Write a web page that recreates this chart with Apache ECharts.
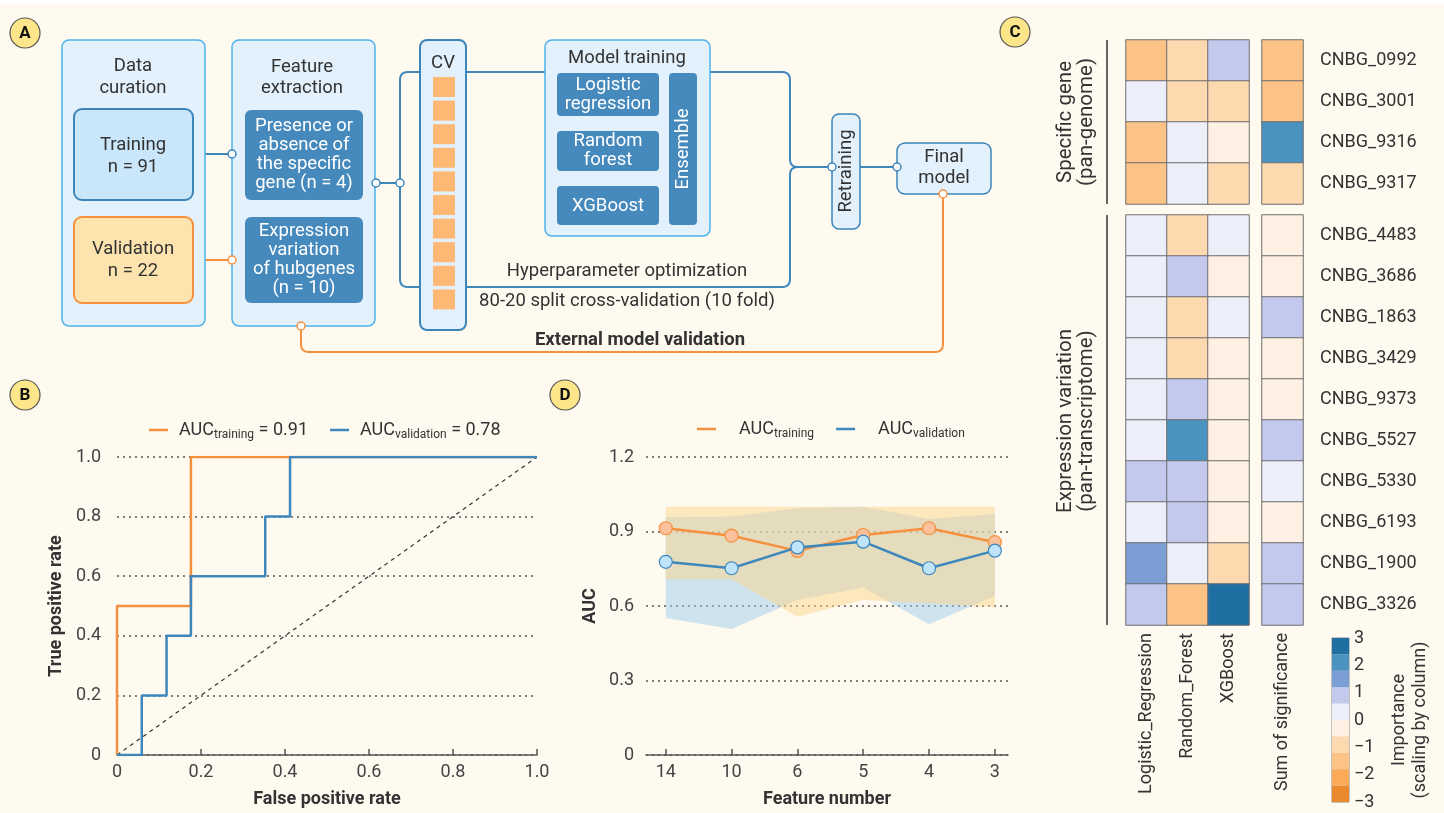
<!DOCTYPE html>
<html>
<head>
<meta charset="utf-8">
<script src="https://cdn.jsdelivr.net/npm/echarts@6/dist/echarts.min.js"></script>
<style>
  html, body { margin: 0; padding: 0; background: #fefaf0; }
  #chart { width: 1444px; height: 813px; }
</style>
</head>
<body>
<div id="chart"></div>
<script>
// ---- B: ROC curves (steps)
const rocTrainFpr = [0, 0, 0.176, 0.176, 1.0];
const rocTrainTpr = [0, 0.5, 0.5, 1.0, 1.0];
const rocValidFpr = [0, 0.059, 0.059, 0.118, 0.118, 0.176, 0.176, 0.353, 0.353, 0.412, 0.412, 1.0];
const rocValidTpr = [0, 0, 0.2, 0.2, 0.4, 0.4, 0.6, 0.6, 0.8, 0.8, 1.0, 1.0];
const aucTrain = '0.91';
const aucValid = '0.78';

// ---- D: AUC vs feature number (mean + range band)
const featureNumbers = [14, 10, 6, 5, 4, 3];
const aucTrainMean = [0.913, 0.883, 0.822, 0.886, 0.913, 0.857];
const aucTrainLow  = [0.708, 0.708, 0.557, 0.624, 0.611, 0.595];
const aucTrainHigh = [1.0, 1.0, 1.0, 1.0, 1.0, 1.0];
const aucValidMean = [0.778, 0.752, 0.836, 0.859, 0.752, 0.823];
const aucValidLow  = [0.552, 0.507, 0.624, 0.675, 0.527, 0.64];
const aucValidHigh = [0.957, 0.96, 0.994, 1.0, 0.95, 0.97];

// ---- C: feature importance heatmap (scaled by column)
const models = ['Logistic_Regression', 'Random_Forest', 'XGBoost'];
const sumLabel = ['Sum of significance'];
const specificGenes = ['CNBG_0992', 'CNBG_3001', 'CNBG_9316', 'CNBG_9317'];
const expressionGenes = ['CNBG_4483', 'CNBG_3686', 'CNBG_1863', 'CNBG_3429', 'CNBG_9373',
  'CNBG_5527', 'CNBG_5330', 'CNBG_6193', 'CNBG_1900', 'CNBG_3326'];
// rows follow the gene lists, columns follow models
const specificImportance = [
  [-1.5, -0.9, 0.9],
  [0.3, -0.9, -0.9],
  [-1.5, 0.3, -0.3],
  [-1.5, 0.3, -0.9]
];
const specificSum = [-1.5, -1.5, 2.1, -0.9];
const expressionImportance = [
  [0.3, -0.9, 0.3],
  [0.3, 0.9, -0.3],
  [0.3, -0.9, 0.3],
  [0.3, -0.9, -0.3],
  [0.3, 0.9, -0.3],
  [0.3, 2.1, -0.3],
  [0.9, 0.9, -0.3],
  [0.3, 0.9, -0.3],
  [1.5, 0.3, -0.9],
  [0.9, -1.5, 2.7]
];
const expressionSum = [-0.3, -0.3, 0.9, -0.3, -0.3, 0.9, 0.3, -0.3, 0.9, 0.9];
const colorSteps = [-3, -2.4, -1.8, -1.2, -0.6, 0, 0.6, 1.2, 1.8, 2.4, 3];
const colorStepColors = ['#ea8a2e', '#fbaa57', '#fcc386', '#fdd9b0', '#fef1e3',
  '#eceefa', '#c3c9ed', '#7b9fd4', '#4a93c1', '#1f6fa3'];

const FONT = 'Roboto, "Noto Sans", sans-serif';
const TXT = '#333';
const ORANGE = '#f5913e';
const BLUE = '#3d87bd';

const chart = echarts.init(document.getElementById('chart'));

// ---------- panel A diagram + decorations (graphic)
const els = [];
function rect(x, y, w, h, fill, stroke, lw, r) {
  els.push({ type: 'rect', shape: { x: x, y: y, width: w, height: h, r: r || 0 },
    style: { fill: fill, stroke: stroke || null, lineWidth: lw || 0 } });
}
function txt(x, y, text, opt) {
  opt = opt || {};
  els.push({ type: 'text', x: x, y: y, rotation: opt.rot || 0, z: 10,
    style: { text: text, x: 0, y: 0, fill: opt.color || TXT,
      font: (opt.bold ? 'bold ' : '') + (opt.size || 18) + 'px ' + FONT,
      textAlign: 'center', align: 'center', textVerticalAlign: 'middle', verticalAlign: 'middle',
      lineHeight: opt.lh || 21 } });
}
// polyline through pts with rounded corners
function wire(pts, color, r) {
  r = r || 8;
  const out = [pts[0]];
  for (let i = 1; i < pts.length - 1; i++) {
    const p0 = pts[i - 1], p = pts[i], p1 = pts[i + 1];
    const d0 = Math.hypot(p[0] - p0[0], p[1] - p0[1]), d1 = Math.hypot(p1[0] - p[0], p1[1] - p[1]);
    const a = [p[0] - (p[0] - p0[0]) / d0 * r, p[1] - (p[1] - p0[1]) / d0 * r];
    const b = [p[0] + (p1[0] - p[0]) / d1 * r, p[1] + (p1[1] - p[1]) / d1 * r];
    for (let k = 0; k <= 6; k++) {
      const t = k / 6, u = 1 - t;
      out.push([u * u * a[0] + 2 * u * t * p[0] + t * t * b[0], u * u * a[1] + 2 * u * t * p[1] + t * t * b[1]]);
    }
  }
  out.push(pts[pts.length - 1]);
  els.push({ type: 'polyline', shape: { points: out }, style: { fill: null, stroke: color, lineWidth: 2 } });
}
function dot(cx, cy, color) {
  els.push({ type: 'circle', z: 5, shape: { cx: cx, cy: cy, r: 4 }, style: { fill: '#fff', stroke: color, lineWidth: 1.5 } });
}
function badge(cx, cy, letter) {
  els.push({ type: 'circle', shape: { cx: cx, cy: cy, r: 15 }, style: { fill: '#fde68a', stroke: '#555', lineWidth: 1.2 } });
  txt(cx, cy + 1, letter, { bold: true, size: 17, color: '#111' });
}

rect(0, 0, 1444, 4, '#ffffff');
const PANEL = '#e2f1fb', BRIGHT = '#4db3ea', DARKB = '#3d85b9', BOX = '#4589bd';

// connectors (drawn first, boxes on top)
wire([[193, 154], [228, 154]], BLUE);
wire([[193, 260], [228, 260]], ORANGE);
wire([[380, 183], [396, 183]], BLUE);
wire([[420, 72], [400, 72], [400, 287], [420, 287]], BLUE);
wire([[466, 72], [545, 72]], BLUE);
wire([[710, 72], [790, 72], [790, 167], [828, 167]], BLUE);
wire([[466, 287], [790, 287], [790, 167], [800, 167]], BLUE);
wire([[860, 167], [893, 167]], BLUE);
wire([[943, 198], [943, 352], [301, 352], [301, 330]], ORANGE);

rect(62, 40, 143, 286, PANEL, BRIGHT, 1.5, 7);
txt(133, 77, 'Data\ncuration', { size: 18.5, lh: 22 });
rect(74, 109, 119, 91, '#c9e6fa', DARKB, 2, 8);
txt(133, 156, 'Training\nn = 91', { size: 18.5, lh: 22 });
rect(74, 217, 119, 86, '#fde4ae', ORANGE, 2, 8);
txt(133, 260, 'Validation\nn = 22', { size: 18.5, lh: 22 });

rect(232, 40, 143, 286, PANEL, BRIGHT, 1.5, 7);
txt(302, 78, 'Feature\nextraction', { size: 18.5, lh: 21 });
rect(245, 110, 118, 90, BOX, null, 0, 6);
txt(304, 155, 'Presence or\nabsence of\nthe specific\ngene (n = 4)', { color: '#fff', lh: 19, size: 18.5 });
rect(245, 217, 118, 86, BOX, null, 0, 6);
txt(304, 260, 'Expression\nvariation\nof hubgenes\n(n = 10)', { color: '#fff', lh: 19, size: 18.5 });

rect(420, 40, 46, 290, PANEL, DARKB, 2, 7);
txt(443, 63, 'CV', { size: 18.5 });
for (let i = 0; i < 10; i++) rect(433, 77 + 23.6 * i, 22, 20, '#fdb873');

rect(545, 40, 165, 196, PANEL, BRIGHT, 1.5, 7);
txt(627, 58, 'Model training', { size: 18.5 });
rect(557, 73, 102, 43, BOX, null, 0, 4);
txt(608, 94.5, 'Logistic\nregression', { color: '#fff', lh: 19, size: 18.5 });
rect(557, 131, 102, 40, BOX, null, 0, 4);
txt(608, 151, 'Random\nforest', { color: '#fff', lh: 19, size: 18.5 });
rect(557, 186, 102, 39, BOX, null, 0, 4);
txt(608, 206, 'XGBoost', { color: '#fff', size: 18.5 });
rect(669, 73, 28, 152, BOX, null, 0, 4);
txt(683, 149, 'Ensemble', { color: '#fff', rot: Math.PI / 2, size: 18.5 });

rect(832, 114, 28, 115, PANEL, DARKB, 1.5, 7);
txt(846, 171, 'Retraining', { rot: Math.PI / 2, size: 18.5 });
rect(897, 143, 94, 51, PANEL, DARKB, 1.5, 8);
txt(944, 168, 'Final\nmodel', { size: 18.5 });

dot(232, 154, BLUE);
dot(232, 260, ORANGE);
dot(376, 183, BLUE);
dot(400, 183, BLUE);
dot(832, 167, BLUE);
dot(897, 167, BLUE);
dot(943, 194, ORANGE);
dot(301, 326, ORANGE);

txt(627, 271, 'Hyperparameter optimization', { size: 18.5 });
txt(627, 301, '80-20 split cross-validation (10 fold)', { size: 18.5 });
txt(640, 340, 'External model validation', { bold: true, size: 18.5 });

// panel C group labels
els.push({ type: 'line', shape: { x1: 1107, y1: 40, x2: 1107, y2: 204 }, style: { stroke: '#333', lineWidth: 1.5 } });
els.push({ type: 'line', shape: { x1: 1107, y1: 215, x2: 1107, y2: 625 }, style: { stroke: '#333', lineWidth: 1.5 } });
txt(1076, 122, 'Specific gene\n(pan-genome)', { rot: Math.PI / 2, lh: 21, size: 20.5 });
txt(1076, 421, 'Expression variation\n(pan-transcriptome)', { rot: Math.PI / 2, lh: 21, size: 20.5 });

badge(25, 33, 'A');
badge(25, 395, 'B');
badge(565, 395, 'D');
badge(1015, 32, 'C');

// ---------- series
const series = [];
const xy = (xs, ys) => xs.map((x, i) => [x, ys[i]]);

series.push({ type: 'line', xAxisIndex: 0, yAxisIndex: 0, data: [[0, 0], [1, 1]], symbol: 'none', silent: true,
  lineStyle: { color: '#333', width: 1.2, type: [4, 4] } });
series.push({ name: 'B_train', type: 'line', xAxisIndex: 0, yAxisIndex: 0, data: xy(rocTrainFpr, rocTrainTpr),
  symbol: 'none', lineStyle: { color: ORANGE, width: 2.5 }, itemStyle: { color: ORANGE } });
series.push({ name: 'B_valid', type: 'line', xAxisIndex: 0, yAxisIndex: 0, data: xy(rocValidFpr, rocValidTpr),
  symbol: 'none', lineStyle: { color: BLUE, width: 2.5 }, itemStyle: { color: BLUE } });

const idx = featureNumbers.map((f, i) => i);
// min-max band drawn as one polygon through the axis coords
function band(low, high, color) {
  series.push({ type: 'custom', xAxisIndex: 1, yAxisIndex: 1, silent: true, z: 1,
    data: idx.map(i => [i, low[i], high[i]]),
    encode: { x: 0, y: [1, 2] },
    renderItem: (params, api) => {
      if (params.dataIndex !== 0) return null;
      const top = idx.map(i => api.coord([i, high[i]]));
      const bot = idx.map(i => api.coord([i, low[i]])).reverse();
      return { type: 'polygon', shape: { points: top.concat(bot) }, style: { fill: color } };
    } });
}
band(aucValidLow, aucValidHigh, 'rgba(160,204,236,0.5)');
band(aucTrainLow, aucTrainHigh, 'rgba(252,214,140,0.5)');
series.push({ name: 'D_train', type: 'line', xAxisIndex: 1, yAxisIndex: 1, z: 3,
  data: idx.map(i => [i, aucTrainMean[i]]), symbol: 'circle', symbolSize: 13,
  lineStyle: { color: ORANGE, width: 2.5 }, itemStyle: { color: '#fbc09c', borderColor: ORANGE, borderWidth: 1.2 } });
series.push({ name: 'D_valid', type: 'line', xAxisIndex: 1, yAxisIndex: 1, z: 4,
  data: idx.map(i => [i, aucValidMean[i]]), symbol: 'circle', symbolSize: 13,
  lineStyle: { color: BLUE, width: 2.5 }, itemStyle: { color: '#bfe3f8', borderColor: BLUE, borderWidth: 1.2 } });

const heatIdx = [];
function heat(ax, rowsVals) {
  const data = [];
  rowsVals.forEach((row, r) => row.forEach((v, c) => data.push([c, r, v])));
  heatIdx.push(series.length);
  series.push({ type: 'heatmap', xAxisIndex: ax, yAxisIndex: ax, data: data, silent: true,
    itemStyle: { borderColor: '#6f6f6f', borderWidth: 1 } });
}
heat(2, specificImportance);
heat(3, specificSum.map(v => [v]));
heat(4, expressionImportance);
heat(5, expressionSum.map(v => [v]));

// colorbar as stacked bar segments from colorSteps
const pos = [], neg = [];
for (let i = 0; i < colorStepColors.length; i++) {
  const lo = colorSteps[i], hi = colorSteps[i + 1];
  if (lo >= 0) pos.push({ v: hi - lo, c: colorStepColors[i] });
  else neg.unshift({ v: lo - hi, c: colorStepColors[i] });
}
pos.concat(neg).forEach(s => {
  series.push({ type: 'bar', xAxisIndex: 6, yAxisIndex: 6, stack: 'cb', data: [s.v], silent: true,
    barWidth: '100%', itemStyle: { color: s.c } });
});

const legendText = {
  B_train: '{m|AUC}{s|training}{m| = ' + aucTrain + '}',
  B_valid: '{m|AUC}{s|validation}{m| = ' + aucValid + '}',
  D_train: '{m|AUC}{s|training}',
  D_valid: '{m|AUC}{s|validation}'
};
const legendRich = {
  m: { fontSize: 18, lineHeight: 22, color: TXT, fontFamily: FONT },
  s: { fontSize: 12, lineHeight: 8, verticalAlign: 'bottom', color: TXT, fontFamily: FONT }
};
function legend(names, left, top, pad) {
  const item = (n, c) => ({ name: n, itemStyle: { color: c, borderWidth: 0 } });
  return { data: [item(names[0], ORANGE), item(names[1], BLUE)],
    left: left, top: top, padding: 0, icon: 'rect', itemWidth: 19, itemHeight: 2.5, itemGap: 22,
    formatter: n => legendText[n], selectedMode: false,
    textStyle: { padding: [0, 0, 0, pad], rich: legendRich } };
}

const tickLbl = { color: '#444', fontSize: 18, fontFamily: FONT };
const dotted = { show: true, lineStyle: { type: [2, 4], color: '#555', width: 1.5 } };
const axName = { fontSize: 18, fontWeight: 'bold', color: TXT, fontFamily: FONT };
const hidden = { show: false };

const option = {
  animation: false,
  backgroundColor: '#fefaf0',
  textStyle: { fontFamily: FONT },
  graphic: { elements: els },
  legend: [legend(['B_train', 'B_valid'], 149, 421, 6), legend(['D_train', 'D_valid'], 697, 420, 18)],
  visualMap: { type: 'piecewise', show: false, seriesIndex: heatIdx,
    pieces: colorStepColors.map((c, i) => ({ gte: colorSteps[i], lt: colorSteps[i + 1], color: c })) },
  grid: [
    { left: 117, top: 457, width: 420, height: 298 },
    { left: 646, top: 457, width: 362, height: 298 },
    { left: 1126, top: 40, width: 123, height: 164 },
    { left: 1262, top: 40, width: 41, height: 164 },
    { left: 1126, top: 215, width: 123, height: 410 },
    { left: 1262, top: 215, width: 41, height: 410 },
    { left: 1332, top: 638, width: 17, height: 164, show: true, borderColor: '#888', borderWidth: 1, backgroundColor: 'transparent' }
  ],
  xAxis: [
    { gridIndex: 0, type: 'value', min: 0, max: 1, interval: 0.2,
      name: 'False positive rate', nameLocation: 'middle', nameGap: 35, nameTextStyle: axName,
      axisLine: { lineStyle: { color: '#555', width: 1.5 } },
      axisTick: { inside: true, length: 6, lineStyle: { color: '#555', width: 1.5 } },
      axisLabel: Object.assign({ margin: 8, formatter: v => v === 0 ? '0' : v.toFixed(1) }, tickLbl),
      splitLine: hidden },
    { gridIndex: 1, type: 'value', min: -0.3, max: 5.2,
      name: 'Feature number', nameLocation: 'middle', nameGap: 35, nameTextStyle: axName,
      axisLine: { lineStyle: { color: '#555', width: 1.5 } },
      axisTick: { inside: true, length: 6, customValues: idx, lineStyle: { color: '#555', width: 1.5 } },
      axisLabel: Object.assign({ margin: 8, customValues: idx, formatter: v => String(featureNumbers[Math.round(v)]) }, tickLbl),
      splitLine: hidden },
    { gridIndex: 2, type: 'category', data: models, show: false },
    { gridIndex: 3, type: 'category', data: sumLabel, show: false },
    { gridIndex: 4, type: 'category', data: models, axisLine: hidden, axisTick: hidden,
      axisLabel: { rotate: 90, margin: 8, fontSize: 18, color: TXT, fontFamily: FONT } },
    { gridIndex: 5, type: 'category', data: sumLabel, axisLine: hidden, axisTick: hidden,
      axisLabel: { rotate: 90, margin: 8, fontSize: 18, color: TXT, fontFamily: FONT } },
    { gridIndex: 6, type: 'category', data: ['cb'], show: false }
  ],
  yAxis: [
    { gridIndex: 0, type: 'value', min: 0, max: 1, interval: 0.2,
      name: 'True positive rate', nameLocation: 'middle', nameGap: 52, nameTextStyle: axName,
      axisLine: hidden, axisTick: hidden,
      axisLabel: Object.assign({ margin: 16, formatter: v => v === 0 ? '0' : v.toFixed(1) }, tickLbl),
      splitLine: dotted },
    { gridIndex: 1, type: 'value', min: 0, max: 1.2, interval: 0.3,
      name: 'AUC', nameLocation: 'middle', nameGap: 47, nameTextStyle: axName,
      axisLine: hidden, axisTick: hidden,
      axisLabel: Object.assign({ margin: 12, formatter: v => v === 0 ? '0' : v.toFixed(1) }, tickLbl),
      splitLine: dotted },
    { gridIndex: 2, type: 'category', data: specificGenes, inverse: true, show: false },
    { gridIndex: 3, type: 'category', data: specificGenes, inverse: true, position: 'right',
      axisLine: hidden, axisTick: hidden,
      axisLabel: { margin: 17, fontSize: 18, color: TXT, fontFamily: FONT } },
    { gridIndex: 4, type: 'category', data: expressionGenes, inverse: true, show: false },
    { gridIndex: 5, type: 'category', data: expressionGenes, inverse: true, position: 'right',
      axisLine: hidden, axisTick: hidden,
      axisLabel: { margin: 17, fontSize: 18, color: TXT, fontFamily: FONT } },
    { gridIndex: 6, type: 'value', min: -3, max: 3, interval: 1, position: 'right',
      name: 'Importance\n(scaling by column)', nameLocation: 'middle', nameRotate: 90, nameGap: 40,
      nameTextStyle: { fontSize: 18, color: TXT, fontFamily: FONT, lineHeight: 21 },
      axisLine: hidden, axisTick: hidden, splitLine: hidden,
      axisLabel: { margin: 5, fontSize: 18, color: TXT, fontFamily: FONT,
        formatter: v => v < 0 ? '\u2212' + (-v) : String(v) } }
  ],
  series: series
};
chart.setOption(option);
</script>
</body>
</html>
